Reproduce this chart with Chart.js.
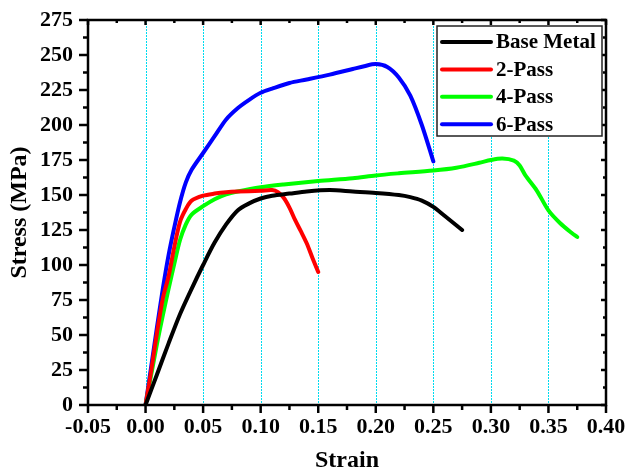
<!DOCTYPE html>
<html>
<head>
<meta charset="utf-8">
<script src="https://cdn.jsdelivr.net/npm/chart.js@4/dist/chart.umd.min.js"></script>
<style>
  html, body { margin: 0; padding: 0; background: #fff; }
  #wrap { width: 627px; height: 473px; }
</style>
</head>
<body>
<div id="wrap"><canvas id="c"></canvas></div>
<script>
// data (strain, stress MPa)
const baseStrain = [0, 0.01, 0.02, 0.03, 0.04, 0.05, 0.06, 0.07, 0.08, 0.09, 0.10, 0.11, 0.125, 0.14, 0.16, 0.18, 0.20, 0.22, 0.23, 0.24, 0.25, 0.26, 0.275];
const baseStress = [0, 22, 44, 65, 83, 100, 116, 129, 139, 144, 147.5, 149.5, 151, 152.5, 153.5, 152.5, 151.5, 150, 148.5, 146, 141.5, 135, 125];

const pass2Strain = [0, 0.005, 0.01, 0.015, 0.02, 0.025, 0.03, 0.035, 0.04, 0.05, 0.06, 0.07, 0.08, 0.10, 0.11, 0.115, 0.12, 0.125, 0.13, 0.135, 0.14, 0.145, 0.15];
const pass2Stress = [0, 25, 52, 76, 92, 113, 131, 140, 146, 149.5, 151, 152, 152.5, 153, 153.5, 152, 148, 141, 132, 124, 115.5, 105, 95];

const pass4Strain = [0, 0.005, 0.01, 0.015, 0.02, 0.025, 0.03, 0.035, 0.04, 0.05, 0.06, 0.07, 0.08, 0.10, 0.12, 0.15, 0.18, 0.20, 0.22, 0.25, 0.27, 0.29, 0.30, 0.31, 0.32, 0.325, 0.33, 0.34, 0.35, 0.36, 0.37, 0.375];
const pass4Stress = [0, 22, 44, 64, 83, 101, 118, 129, 136, 142, 147, 150.5, 152.5, 155.5, 157.5, 160, 162, 164, 165.5, 167.5, 169.5, 173, 175, 176, 174.5, 171, 164, 153, 139, 130, 123, 120];

const pass6Strain = [0, 0.005, 0.01, 0.015, 0.02, 0.025, 0.03, 0.035, 0.04, 0.05, 0.06, 0.07, 0.08, 0.09, 0.10, 0.11, 0.125, 0.14, 0.16, 0.18, 0.19, 0.20, 0.21, 0.22, 0.23, 0.24, 0.25];
const pass6Stress = [0, 28, 56, 83, 107, 127, 145, 159, 168, 180, 192, 204, 212, 218, 223, 226, 230, 232.5, 236, 240, 242, 243.5, 241.5, 234, 221, 200, 174];

const seriesNames  = ['Base Metal', '2-Pass', '4-Pass', '6-Pass'];
const seriesColors = ['#000000', '#ff0000', '#00ff00', '#0000ff'];

const xTicks = [-0.05, 0, 0.05, 0.10, 0.15, 0.20, 0.25, 0.30, 0.35, 0.40];
const yTicks = [0, 25, 50, 75, 100, 125, 150, 175, 200, 225, 250, 275];

const toPts = (xs, ys) => xs.map((x, i) => ({ x, y: ys[i] }));
const allPts = [
  toPts(baseStrain, baseStress),
  toPts(pass2Strain, pass2Stress),
  toPts(pass4Strain, pass4Stress),
  toPts(pass6Strain, pass6Stress)
];

const FONT = '"Liberation Serif", "Times New Roman", serif';

// axes box, ticks, grid and legend
const frame = {
  id: 'frame',
  beforeDatasetsDraw(chart) {
    const { ctx, chartArea: a, scales: { x } } = chart;
    ctx.save();
    ctx.strokeStyle = '#00dcf0';
    ctx.lineWidth = 1;
    ctx.setLineDash([2, 1]);
    xTicks.slice(1, -1).forEach(v => {
      const px = Math.round(x.getPixelForValue(v)) + 0.5;
      ctx.beginPath();
      ctx.moveTo(px, a.top);
      ctx.lineTo(px, a.bottom);
      ctx.stroke();
    });
    ctx.restore();
  },
  afterDatasetsDraw(chart) {
    const { ctx, chartArea: a, scales: { x, y } } = chart;
    ctx.save();
    ctx.strokeStyle = '#000';
    ctx.lineWidth = 2.5;
    ctx.strokeRect(a.left, a.top, a.right - a.left, a.bottom - a.top);

    const line = (x1, y1, x2, y2) => {
      ctx.beginPath(); ctx.moveTo(x1, y1); ctx.lineTo(x2, y2); ctx.stroke();
    };
    // x ticks
    for (let i = 0; i < xTicks.length; i++) {
      const px = x.getPixelForValue(xTicks[i]);
      line(px, a.bottom, px, a.bottom + 8);
      line(px, a.top, px, a.top + 5);
      if (i < xTicks.length - 1) {
        const mx = x.getPixelForValue((xTicks[i] + xTicks[i + 1]) / 2);
        line(mx, a.bottom, mx, a.bottom + 5);
        line(mx, a.top, mx, a.top + 3);
      }
    }
    // y ticks
    for (let i = 0; i < yTicks.length; i++) {
      const py = y.getPixelForValue(yTicks[i]);
      line(a.left - 9, py, a.left, py);
      line(a.right - 5, py, a.right, py);
      if (i < yTicks.length - 1) {
        const my = y.getPixelForValue((yTicks[i] + yTicks[i + 1]) / 2);
        line(a.left - 5, my, a.left, my);
        line(a.right - 3, my, a.right, my);
      }
    }

    // legend
    const bx = 437, by = 26, bw = 165, bh = 110;
    ctx.fillStyle = '#fff';
    ctx.fillRect(bx, by, bw, bh);
    ctx.strokeStyle = '#222';
    ctx.lineWidth = 1.5;
    ctx.strokeRect(bx, by, bw, bh);
    ctx.font = 'bold 21px ' + FONT;
    ctx.textBaseline = 'middle';
    chart.data.datasets.forEach((ds, i) => {
      const ry = 42 + i * 27.4;
      ctx.strokeStyle = ds.borderColor;
      ctx.lineWidth = 4;
      ctx.lineCap = 'round';
      line(442, ry, 491, ry);
      ctx.fillStyle = '#000';
      ctx.fillText(ds.label, 496, ry + 1);
    });
    ctx.restore();
  }
};

new Chart(document.getElementById('c'), {
  type: 'scatter',
  data: {
    datasets: allPts.map((pts, i) => ({
      label: seriesNames[i],
      data: pts,
      showLine: true,
      borderColor: seriesColors[i],
      backgroundColor: seriesColors[i],
      borderWidth: 4,
      borderCapStyle: 'round',
      borderJoinStyle: 'round',
      pointRadius: 0,
      tension: 0.3
    }))
  },
  options: {
    responsive: true,
    maintainAspectRatio: false,
    animation: false,
    layout: { padding: { top: 20, right: 21, left: 0, bottom: 0 } },
    plugins: { legend: { display: false }, tooltip: { enabled: false } },
    scales: {
      x: {
        type: 'linear',
        min: -0.05, max: 0.4,
        afterBuildTicks: s => { s.ticks = xTicks.map(v => ({ value: v })); },
        afterFit: s => { s.height = 68; s.paddingLeft = 0; s.paddingRight = 0; },
        grid: { display: false, drawTicks: false },
        border: { display: false },
        ticks: {
          padding: 9,
          color: '#000',
          font: { family: FONT, size: 22, weight: 'bold' },
          maxRotation: 0,
          autoSkip: false,
          callback: v => v.toFixed(2)
        },
        title: {
          display: true, text: 'Strain', color: '#000',
          font: { family: FONT, size: 24, weight: 'bold', lineHeight: 1 },
          padding: { top: 0, bottom: 0 }
        }
      },
      y: {
        min: 0, max: 275,
        afterBuildTicks: s => { s.ticks = yTicks.map(v => ({ value: v })); },
        afterFit: s => { s.width = 88; s.paddingTop = 0; s.paddingBottom = 0; },
        grid: { display: false, drawTicks: false },
        border: { display: false },
        ticks: {
          padding: 15,
          color: '#000',
          font: { family: FONT, size: 22, weight: 'bold' },
          autoSkip: false
        },
        title: {
          display: true, text: 'Stress (MPa)', color: '#000',
          font: { family: FONT, size: 24, weight: 'bold', lineHeight: 1 },
          padding: { top: 8, bottom: 0 }
        }
      }
    }
  },
  plugins: [frame]
});
</script>
</body>
</html>
